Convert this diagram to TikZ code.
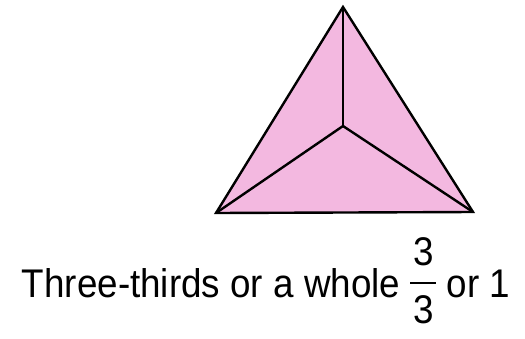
\documentclass[tikz,border=0pt]{standalone}
\usepackage{fontspec}
\setmainfont{Liberation Sans}
\definecolor{thirdpink}{RGB}{243,184,224}

\newsavebox\digitbox
\newcommand{\threethirds}{\sbox\digitbox{3}%
  \rlap{\hspace{3pt}\raisebox{32pt}{\usebox\digitbox}}%
  \rlap{\hspace{3pt}\raisebox{-26pt}{\usebox\digitbox}}%
  \rule[13pt]{\dimexpr\wd\digitbox+6pt\relax}{2pt}}

\begin{document}
\begin{tikzpicture}[
  x=1pt, y=-1pt,
  part/.style={fill=thirdpink, draw=none},
  edge/.style={line width=2.4pt, line join=miter, line cap=round},
  caption/.style={font=\fontsize{40}{48}\selectfont, inner sep=0pt, anchor=base,
                  xscale=0.92, transform shape},
]
\useasboundingbox (0,0) rectangle (525,338);

%% corners and centre of the triangle
\coordinate (top)   at (343,7);
\coordinate (left)  at (216,213);
\coordinate (right) at (473,212);
\coordinate (mid)   at (343,126);

%% three equal parts
\fill[part] (top) -- (left) -- (right) -- cycle;

\draw[edge] (top) -- (left) -- (right) -- cycle;
\draw[edge] (mid) -- (top);
\draw[edge] (mid) -- (left);
\draw[edge] (mid) -- (right);

%% caption
\node[caption] (cap) at (266,297)
  {Three-thirds or a whole \threethirds{} or 1};

\end{tikzpicture}
\end{document}
